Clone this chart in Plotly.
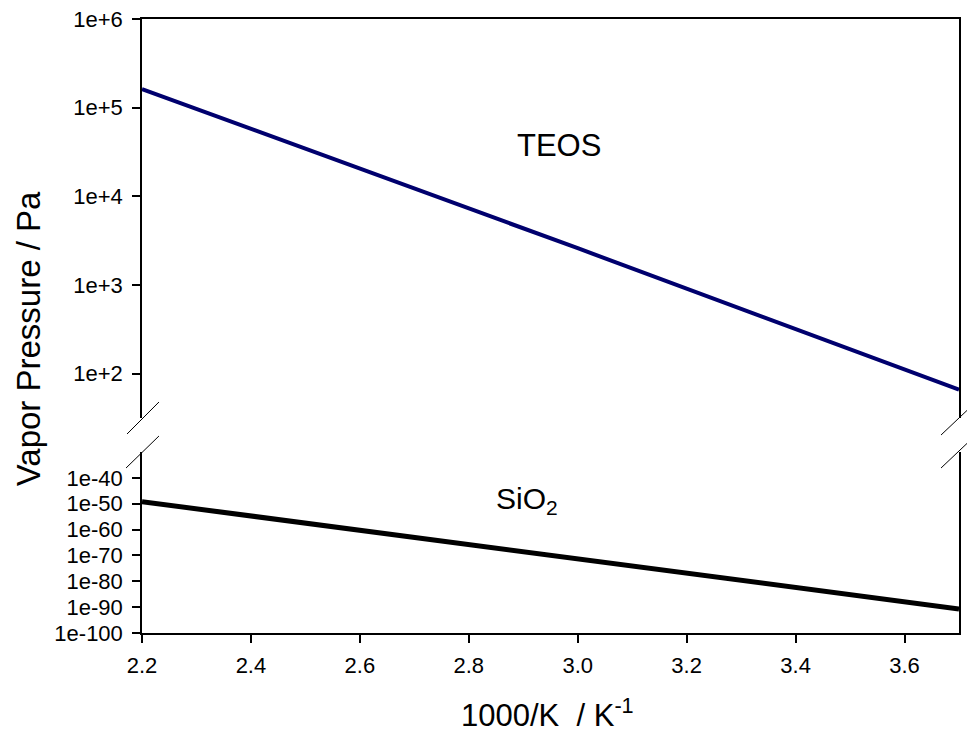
import plotly.graph_objects as go

# Data
teos_x = [2.2, 3.0, 3.7]
teos_y = [1.62e5, 2.6e3, 66]
sio2_x = [2.2, 3.7]
sio2_y = [10**-49.2, 10**-90.7]

x_ticks = [2.2, 2.4, 2.6, 2.8, 3.0, 3.2, 3.4, 3.6]
x_ticklabels = ["2.2", "2.4", "2.6", "2.8", "3.0", "3.2", "3.4", "3.6"]
top_ticks = [1e2, 1e3, 1e4, 1e5, 1e6]
top_ticklabels = ["1e+2", "1e+3", "1e+4", "1e+5", "1e+6"]
bot_ticks = [1e-100, 1e-90, 1e-80, 1e-70, 1e-60, 1e-50, 1e-40]
bot_ticklabels = ["1e-100", "1e-90", "1e-80", "1e-70", "1e-60", "1e-50", "1e-40"]

FONT = "Liberation Sans, Arial, sans-serif"
W, H = 967, 733
L, R, T, B = 142, 6, 19, 100
pw, ph = W - L - R, H - T - B

def px(xp):
    return (xp - L) / pw

def py(yp):
    return (H - B - yp) / ph

fig = go.Figure()
fig.add_trace(go.Scatter(x=teos_x, y=teos_y, mode="lines", xaxis="x2", yaxis="y",
                         line=dict(color="#00006e", width=4), showlegend=False))
fig.add_trace(go.Scatter(x=sio2_x, y=sio2_y, mode="lines", xaxis="x", yaxis="y2",
                         line=dict(color="black", width=5), showlegend=False))

axis_common = dict(showgrid=False, zeroline=False, linecolor="black", linewidth=1.5)

fig.update_layout(
    width=W, height=H,
    margin=dict(l=L, r=R, t=T, b=B),
    paper_bgcolor="white", plot_bgcolor="white",
    font=dict(family=FONT, color="black", size=22),
    xaxis=dict(range=[2.2, 3.7], anchor="y2", tickvals=x_ticks, ticktext=x_ticklabels,
               ticks="outside", ticklen=8, tickwidth=1.5, tickcolor="black",
               ticklabelstandoff=4,
               showline=True, tickfont=dict(size=22, family=FONT), **axis_common),
    xaxis2=dict(range=[2.2, 3.7], anchor="y", side="top", matches="x",
                showticklabels=False, ticks="", showline=True, **axis_common),
    yaxis=dict(type="log", range=[1.5, 6], domain=[py(418), 1.0], anchor="x2",
               tickvals=top_ticks, ticktext=top_ticklabels,
               ticks="outside", ticklen=8, tickwidth=1.5, tickcolor="black",
               ticklabelstandoff=5,
               showline=True, mirror=True, tickfont=dict(size=22, family=FONT), **axis_common),
    yaxis2=dict(type="log", range=[-100, -30], domain=[0.0, py(452)], anchor="x",
                tickvals=bot_ticks, ticktext=bot_ticklabels,
                ticks="outside", ticklen=8, tickwidth=1.5, tickcolor="black",
                ticklabelstandoff=5,
                showline=True, mirror=True, tickfont=dict(size=22, family=FONT), **axis_common),
)

# Break marks
shapes = []
for (x0, y0, x1, y1) in [(127, 434, 159, 402), (126, 468, 159, 436),
                         (943, 435, 979, 401), (943, 468, 979, 434)]:
    shapes.append(dict(type="line", xref="paper", yref="paper",
                       x0=px(x0), y0=py(y0), x1=px(x1), y1=py(y1),
                       line=dict(color="black", width=1)))
fig.update_layout(shapes=shapes)

annotations = [
    dict(text="TEOS", x=px(560), y=py(145), xref="paper", yref="paper",
         xanchor="center", yanchor="middle",
         showarrow=False, font=dict(size=31, family=FONT)),
    dict(text="SiO<sub>2</sub>", x=px(528), y=py(500), xref="paper", yref="paper",
         xanchor="center", yanchor="middle",
         showarrow=False, font=dict(size=30, family=FONT)),
    dict(text="Vapor Pressure / Pa", x=px(28), y=py(339), xref="paper", yref="paper",
         xanchor="center", yanchor="middle",
         textangle=-90, showarrow=False, font=dict(size=33, family=FONT)),
    dict(text="1000/K  / K<sup>-1</sup>", x=px(548), y=py(713), xref="paper", yref="paper",
         xanchor="center", yanchor="middle",
         showarrow=False, font=dict(size=31, family=FONT)),
]
fig.update_layout(annotations=annotations)

fig.write_html("out.html")
